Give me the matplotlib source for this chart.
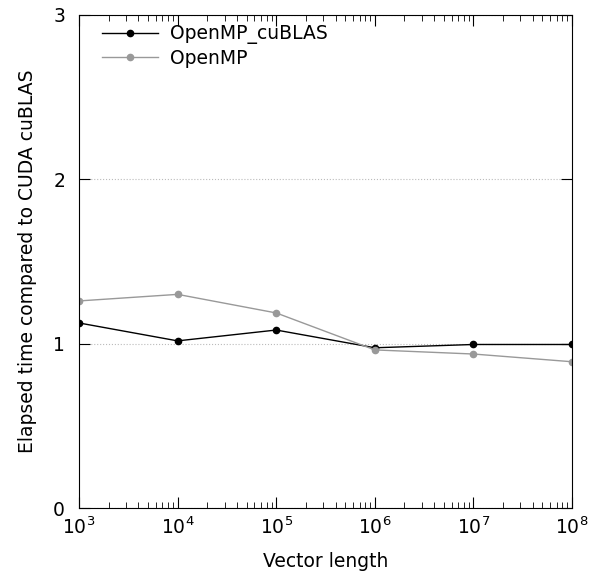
import matplotlib
matplotlib.use('Agg')
import matplotlib.pyplot as plt
from matplotlib.ticker import LogLocator, NullFormatter

# vector lengths and relative elapsed time
lengths = [1e3, 1e4, 1e5, 1e6, 1e7, 1e8]
omp_cublas = [1.126, 1.017, 1.083, 0.975, 0.995, 0.995]
omp = [1.26, 1.30, 1.187, 0.962, 0.937, 0.89]

plt.rcParams['font.size'] = 13.5

fig = plt.figure(figsize=(5.97, 5.73), dpi=100)
ax = fig.add_axes([79/597, 65/573, 493/597, 493/573])

ax.plot(lengths, omp_cublas, color='black', marker='o', ms=4.5, lw=1, label='OpenMP_cuBLAS')
ax.plot(lengths, omp, color='#999999', marker='o', ms=4.5, lw=1, label='OpenMP')

ax.set_xscale('log')
ax.set_xlim(1e3, 1e8)
ax.set_ylim(0, 3)
ax.set_yticks([0, 1, 2, 3])
ax.xaxis.set_major_locator(LogLocator(base=10, numticks=10))
ax.xaxis.set_minor_locator(LogLocator(base=10, subs=range(2, 10), numticks=20))
ax.xaxis.set_minor_formatter(NullFormatter())
ax.tick_params(which='both', direction='in', top=True, right=True)
ax.tick_params(which='major', length=8)
ax.tick_params(which='minor', length=4)
ax.tick_params(axis='y', pad=10)
ax.tick_params(axis='x', pad=6)
ax.grid(axis='y', color='#bbbbbb', ls=':', lw=0.8)

ax.set_xlabel('Vector length', labelpad=10)
ax.set_ylabel('Elapsed time compared to CUDA cuBLAS', labelpad=12)

ax.legend(loc='upper left', frameon=False, handlelength=3, handletextpad=0.65,
          labelspacing=0.25, borderaxespad=0.8, bbox_to_anchor=(0, 1.027))

fig.savefig('out.png', dpi=100)
